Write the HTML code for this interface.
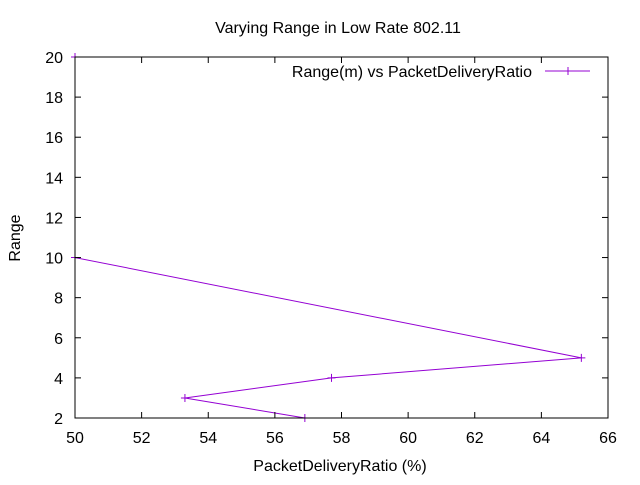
<!DOCTYPE html>
<html><head><meta charset="utf-8"><style>
body{margin:0;background:#fff;}
svg text{font-family:"Liberation Sans",sans-serif;font-size:16px;fill:#000;}
</style></head><body>
<svg id="chart" width="640" height="480">
<rect x="0" y="0" width="640" height="480" fill="#fff"/>
<text x="338" y="33" text-anchor="middle">Varying Range in Low Rate 802.11</text>
<g id="series"></g>
<g id="axes"></g>
<rect x="75" y="57" width="533" height="361" fill="none" stroke="#000"/>
<text x="340" y="471" text-anchor="middle">PacketDeliveryRatio (%)</text>
<text x="20" y="238" text-anchor="middle" transform="rotate(-90 20 238)">Range</text>
<g>
<text x="532" y="77" text-anchor="end">Range(m) vs PacketDeliveryRatio</text>
<line x1="545" y1="71" x2="590" y2="71" stroke="#9400d3"/>
<path d="M564 71h8M568 67v8" stroke="#9400d3"/>
</g>
</svg>
<script>
const xTicks=[50,52,54,56,58,60,62,64,66];
const yTicks=[2,4,6,8,10,12,14,16,18,20];
const pdr=[56.9,53.3,57.7,65.2,50,50];
const range=[2,3,4,5,10,20];
const NS='http://www.w3.org/2000/svg';
function sx(v){return 75+(v-50)/16*533;}
function sy(v){return 418-(v-2)/18*361;}
const ax=document.getElementById('axes');
function mk(t,a,p){const e=document.createElementNS(NS,t);for(const k in a)e.setAttribute(k,a[k]);p.appendChild(e);return e;}
xTicks.forEach(v=>{const x=sx(v);
const t1=mk('line',{x1:x,y1:418,x2:x,y2:412,stroke:'#000'},ax);


const t2=mk('line',{x1:x,y1:57,x2:x,y2:63,stroke:'#000'},ax);


const l=mk('text',{x:x,y:443,'text-anchor':'middle'},ax);l.textContent=v;

});
yTicks.forEach(v=>{const y=sy(v);
const t1=mk('line',{x1:75,y1:y,x2:81,y2:y,stroke:'#000'},ax);


const t2=mk('line',{x1:608,y1:y,x2:602,y2:y,stroke:'#000'},ax);


const l=mk('text',{x:63,y:y+6,'text-anchor':'end'},ax);l.textContent=v;

});
const sg=document.getElementById('series');
const pts=pdr.map((p,i)=>sx(p)+','+sy(range[i])).join(' ');
const pl=mk('polyline',{points:pts,fill:'none',stroke:'#9400d3'},sg);


pdr.forEach((p,i)=>{const x=sx(p),y=sy(range[i]);
const m=mk('path',{d:`M${x-4} ${y}h8M${x} ${y-4}v8`,stroke:'#9400d3'},sg);

});
</script>
</body></html>
